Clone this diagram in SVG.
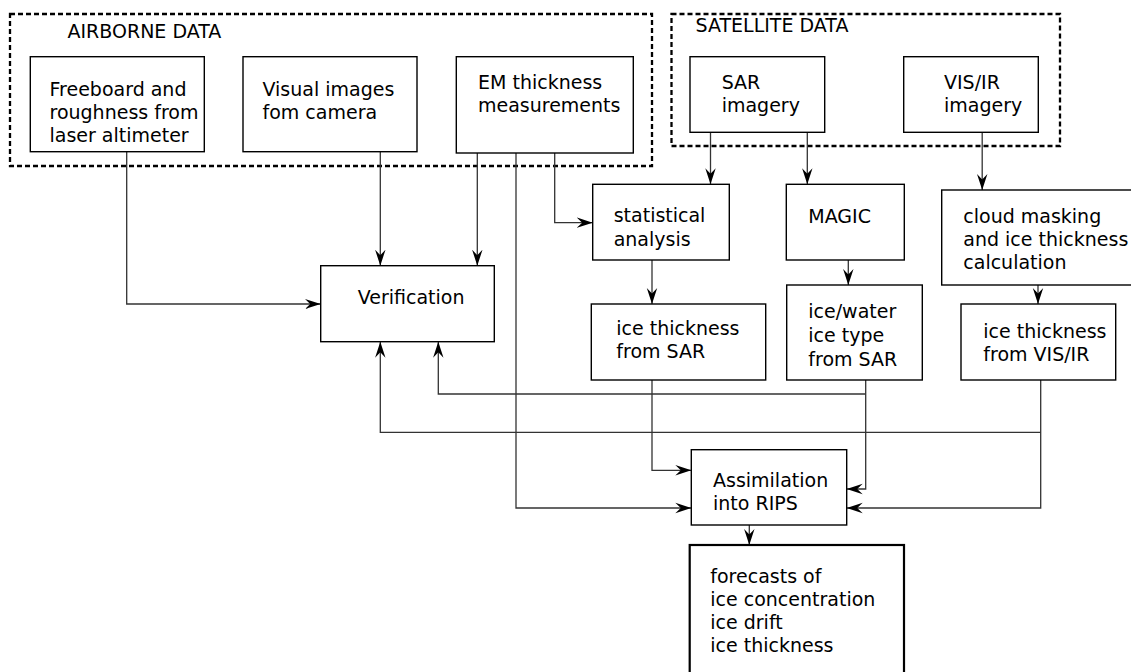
<svg xmlns="http://www.w3.org/2000/svg" width="1131" height="672" viewBox="0 0 1131 672">
<defs>
<style>
.box{fill:#fff;stroke:#000;stroke-width:1.4}
.grp{fill:none;stroke:#000;stroke-width:2.3;stroke-dasharray:5 3}
.thick{fill:#fff;stroke:#000;stroke-width:2.2}
text{font-family:"DejaVu Sans","Liberation Sans",sans-serif;font-size:19px;fill:#000}
.c{fill:none;stroke:#333;stroke-width:1.3}
</style>
<marker id="ah" markerUnits="userSpaceOnUse" markerWidth="18" markerHeight="12" refX="16" refY="6" orient="auto">
<path d="M16,6 L0,0.8 L5.5,6 L0,11.2 Z" fill="#000"/>
</marker>
</defs>
<rect width="1131" height="672" fill="#fff"/>

<g id="airborne-group">
<rect class="grp" x="10" y="14" width="642" height="152"/>
<text x="67.5" y="37.5">AIRBORNE DATA</text>
</g>
<g id="satellite-group">
<rect class="grp" x="671.5" y="14" width="388.5" height="132"/>
<text x="695.5" y="32">SATELLITE DATA</text>
</g>

<g id="connectors">
<path class="c" d="M126.7,152 V304 H320.7" marker-end="url(#ah)"/>
<path class="c" d="M380.3,152 V265.7" marker-end="url(#ah)"/>
<path class="c" d="M477.3,153 V265.7" marker-end="url(#ah)"/>
<path class="c" d="M516,153 V508 H691.3" marker-end="url(#ah)"/>
<path class="c" d="M554.7,153 V222.7 H592.7" marker-end="url(#ah)"/>
<path class="c" d="M710.5,132.3 V184.3" marker-end="url(#ah)"/>
<path class="c" d="M807.3,132.3 V184.3" marker-end="url(#ah)"/>
<path class="c" d="M982.2,132.3 V190" marker-end="url(#ah)"/>
<path class="c" d="M652,260 V304" marker-end="url(#ah)"/>
<path class="c" d="M848.3,260 V285" marker-end="url(#ah)"/>
<path class="c" d="M1038,285 V304" marker-end="url(#ah)"/>
<path class="c" d="M652,380 V470.3 H691.3" marker-end="url(#ah)"/>
<path class="c" d="M865.7,380 V489 H846.7" marker-end="url(#ah)"/>
<path class="c" d="M865.7,394 H438.3 V341.7" marker-end="url(#ah)"/>
<path class="c" d="M1040.7,380 V508 H846.7" marker-end="url(#ah)"/>
<path class="c" d="M1040.7,432.3 H380.3 V341.7" marker-end="url(#ah)"/>
<path class="c" d="M749.3,525 V545" marker-end="url(#ah)"/>
</g>

<g id="freeboard">
<rect class="box" x="30.3" y="56.7" width="174" height="95"/>
<text x="49.5" y="96">Freeboard and</text>
<text x="49.5" y="119">roughness from</text>
<text x="49.5" y="142">laser altimeter</text>
</g>
<g id="visual">
<rect class="box" x="243" y="56.7" width="174" height="95"/>
<text x="262.5" y="96">Visual images</text>
<text x="262.5" y="119">fom camera</text>
</g>
<g id="em">
<rect class="box" x="456.3" y="56.7" width="177" height="96.3"/>
<text x="478" y="89">EM thickness</text>
<text x="478" y="112.3">measurements</text>
</g>
<g id="sar">
<rect class="box" x="690" y="56.7" width="134.7" height="75.6"/>
<text x="721.7" y="89.3">SAR</text>
<text x="721.7" y="112.3">imagery</text>
</g>
<g id="visir">
<rect class="box" x="903.7" y="56.7" width="134.6" height="75.6"/>
<text x="944" y="89.3">VIS/IR</text>
<text x="944" y="112.3">imagery</text>
</g>
<g id="statistical">
<rect class="box" x="592.7" y="184.3" width="136.6" height="75.7"/>
<text x="613.7" y="222.3">statistical</text>
<text x="613.7" y="245.5">analysis</text>
</g>
<g id="magic">
<rect class="box" x="786.3" y="184.3" width="118" height="75.7"/>
<text x="808.3" y="222.7">MAGIC</text>
</g>
<g id="cloud">
<rect class="box" x="941.7" y="190" width="200" height="95"/>
<text x="963.3" y="222.7">cloud masking</text>
<text x="963.3" y="246">and ice thickness</text>
<text x="963.3" y="269.3">calculation</text>
</g>
<g id="verification">
<rect class="box" x="320.7" y="265.7" width="173.6" height="76"/>
<text x="357.7" y="304">Verification</text>
</g>
<g id="thick-sar">
<rect class="box" x="591.3" y="304" width="174.4" height="76"/>
<text x="616.3" y="335">ice thickness</text>
<text x="616.3" y="358">from SAR</text>
</g>
<g id="icewater">
<rect class="box" x="786.7" y="285" width="135.6" height="95"/>
<text x="808.3" y="318">ice/water</text>
<text x="808.3" y="342">ice type</text>
<text x="808.3" y="366">from SAR</text>
</g>
<g id="thick-visir">
<rect class="box" x="961" y="304" width="154.7" height="76"/>
<text x="983.3" y="338">ice thickness</text>
<text x="983.3" y="361">from VIS/IR</text>
</g>
<g id="assimilation">
<rect class="box" x="691.3" y="449.7" width="155.4" height="75.3"/>
<text x="713" y="487">Assimilation</text>
<text x="713" y="510">into RIPS</text>
</g>
<g id="forecasts">
<rect class="thick" x="689.7" y="545" width="214.3" height="140"/>
<text x="710.3" y="583">forecasts of</text>
<text x="710.3" y="606">ice concentration</text>
<text x="710.3" y="629">ice drift</text>
<text x="710.3" y="652">ice thickness</text>
</g>
</svg>
